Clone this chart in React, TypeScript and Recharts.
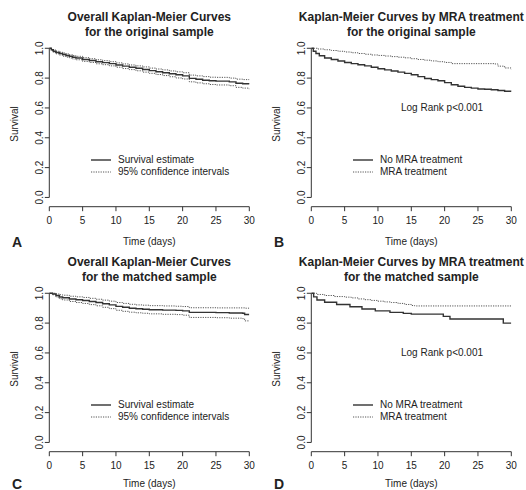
import React from 'react';
import { LineChart, Line, XAxis, YAxis, ReferenceLine } from 'recharts';

// Panel A: overall KM, original sample
const timesA = [0, 0.3, 0.6, 1, 1.5, 2, 2.5, 3, 3.5, 4, 5, 6, 7, 8, 9, 10, 11, 12, 13, 14, 15, 16, 17, 18, 19, 20, 21, 22, 23, 24, 25, 27, 28, 29, 30];
const survA = [1, 0.99, 0.98, 0.972, 0.965, 0.958, 0.952, 0.946, 0.94, 0.935, 0.925, 0.918, 0.91, 0.904, 0.897, 0.888, 0.88, 0.873, 0.866, 0.858, 0.85, 0.843, 0.836, 0.829, 0.822, 0.815, 0.798, 0.792, 0.786, 0.782, 0.78, 0.775, 0.766, 0.762, 0.758];
const upperA = [1, 0.995, 0.988, 0.98, 0.974, 0.968, 0.962, 0.956, 0.951, 0.946, 0.937, 0.93, 0.923, 0.917, 0.91, 0.902, 0.895, 0.888, 0.882, 0.875, 0.867, 0.861, 0.855, 0.848, 0.842, 0.836, 0.82, 0.815, 0.81, 0.806, 0.805, 0.8, 0.793, 0.79, 0.787];
const lowerA = [1, 0.985, 0.972, 0.963, 0.955, 0.947, 0.941, 0.935, 0.928, 0.923, 0.912, 0.905, 0.896, 0.89, 0.882, 0.873, 0.864, 0.857, 0.849, 0.84, 0.832, 0.824, 0.817, 0.809, 0.801, 0.794, 0.775, 0.768, 0.762, 0.757, 0.754, 0.749, 0.738, 0.733, 0.725];

// Panel B: by MRA treatment, original sample
const timesBNo = [0, 0.3, 0.7, 1.2, 2, 3, 4, 5, 6, 7, 8, 9, 10, 11, 12, 13, 14, 15, 16, 17, 18, 19, 20, 21, 22, 23, 24, 25, 26, 27, 28, 29, 30];
const survBNo = [1, 0.98, 0.965, 0.95, 0.935, 0.925, 0.915, 0.905, 0.897, 0.89, 0.882, 0.873, 0.863, 0.855, 0.848, 0.84, 0.832, 0.822, 0.81, 0.797, 0.79, 0.782, 0.77, 0.755, 0.745, 0.738, 0.733, 0.727, 0.725, 0.722, 0.717, 0.712, 0.708];
const timesBMra = [0, 1, 2, 3, 4, 5, 6, 7, 8, 9, 10, 11, 12, 13, 14, 15, 16, 17, 18, 19, 20, 21, 25, 27.5, 28, 29, 30];
const survBMra = [1, 0.995, 0.99, 0.985, 0.98, 0.975, 0.97, 0.965, 0.96, 0.955, 0.952, 0.948, 0.944, 0.94, 0.936, 0.93, 0.925, 0.92, 0.915, 0.91, 0.905, 0.897, 0.897, 0.895, 0.88, 0.868, 0.858];

// Panel C: overall KM, matched sample
const timesC = [0, 0.5, 1, 1.5, 2, 3, 4, 5, 6, 7, 8, 9, 10, 11, 12, 13, 14, 15, 17, 19, 20, 21, 25, 27, 29, 29.3, 30];
const survC = [1, 0.995, 0.985, 0.975, 0.97, 0.962, 0.957, 0.952, 0.945, 0.938, 0.93, 0.922, 0.912, 0.906, 0.9, 0.896, 0.893, 0.89, 0.887, 0.885, 0.882, 0.872, 0.87, 0.868, 0.866, 0.858, 0.858];
const upperC = [1, 1, 0.995, 0.99, 0.987, 0.98, 0.976, 0.972, 0.966, 0.96, 0.954, 0.947, 0.938, 0.932, 0.926, 0.922, 0.92, 0.917, 0.915, 0.913, 0.911, 0.903, 0.902, 0.902, 0.902, 0.9, 0.9];
const lowerC = [1, 0.99, 0.975, 0.963, 0.955, 0.945, 0.938, 0.932, 0.924, 0.916, 0.906, 0.897, 0.886, 0.879, 0.873, 0.869, 0.866, 0.862, 0.859, 0.857, 0.853, 0.838, 0.836, 0.833, 0.83, 0.815, 0.815];

// Panel D: by MRA treatment, matched sample
const timesDNo = [0, 0.35, 0.85, 2, 3.8, 5.8, 7.6, 9.6, 11.8, 13.8, 15, 19.8, 20.8, 28.8, 30];
const survDNo = [1, 0.976, 0.955, 0.94, 0.925, 0.91, 0.895, 0.882, 0.872, 0.865, 0.86, 0.845, 0.828, 0.8, 0.8];
const timesDMra = [0, 0.8, 2, 3.5, 5, 6, 7, 8, 9, 10, 11, 12, 13, 14, 15, 15.5, 30];
const survDMra = [1, 0.992, 0.985, 0.978, 0.974, 0.969, 0.962, 0.957, 0.952, 0.947, 0.942, 0.938, 0.932, 0.925, 0.918, 0.915, 0.915];

const xTicks = [0, 5, 10, 15, 20, 25, 30];
const yTicks = [0, 0.2, 0.4, 0.6, 0.8, 1];

const zip = (t: number[], s: number[]) => t.map((v, i) => ({ t: v, s: s[i] }));

const FONT = '"Liberation Sans", Arial, sans-serif';
const INK = '#222';

type Series = { data: { t: number; s: number }[]; dotted: boolean };

function YTick(props: any) {
  const { x, y, payload } = props;
  return (
    <text x={x} y={y} transform={`rotate(-90 ${x} ${y})`} textAnchor="middle" fontSize={10} fill={INK} fontFamily={FONT}>
      {payload.value.toFixed(1)}
    </text>
  );
}

function Panel({ left, top, title, letter, series, legend, logRank, footY }: {
  left: number; top: number; title: string[]; letter: string; series: Series[]; legend: string[]; logRank: boolean; footY: number;
}) {
  const txt: React.CSSProperties = { position: 'absolute', fontFamily: FONT, color: INK, whiteSpace: 'nowrap', lineHeight: 1 };
  return (
    <div style={{ position: 'absolute', left, top, width: 263, height: 245 }}>
      <LineChart width={263} height={245} margin={{ top: 42.3, right: 13.7, bottom: 8.3, left: 0 }}>
        <XAxis
          type="number"
          dataKey="t"
          domain={[0, 30]}
          ticks={xTicks}
          allowDataOverflow
          height={30}
          tickSize={4.5}
          tickMargin={6}
          stroke="#333"
          tick={{ fontSize: 10, fill: INK, fontFamily: FONT }}
        />
        <YAxis
          type="number"
          domain={[-0.062, 1.04]}
          ticks={yTicks}
          allowDataOverflow
          width={49.3}
          axisLine={false}
          tickSize={4.5}
          tickMargin={1.5}
          stroke="#333"
          tick={<YTick />}
        />
        <ReferenceLine segment={[{ x: 0, y: 0 }, { x: 0, y: 1 }]} stroke="#333" strokeWidth={1} />
        {series.map((s, i) => (
          <Line
            key={i}
            data={s.data}
            dataKey="s"
            type="stepAfter"
            dot={false}
            activeDot={false}
            stroke={s.dotted ? '#555' : '#333'}
            strokeWidth={s.dotted ? 1 : 1.4}
            strokeDasharray={s.dotted ? '1.2 1.2' : undefined}
            isAnimationActive={false}
          />
        ))}
      </LineChart>
      {title.map((line, i) => (
        <div key={i} style={{ ...txt, left: 149.3, top: 17 + i * 15, transform: 'translate(-50%, -50%)', fontSize: 12, fontWeight: 'bold' }}>
          {line}
        </div>
      ))}
      <div style={{ ...txt, left: 17, top: footY, transform: 'translate(-50%, -50%)', fontSize: 14, fontWeight: 'bold' }}>{letter}</div>
      <div style={{ ...txt, left: 149.3, top: footY, transform: 'translate(-50%, -50%)', fontSize: 10, lineHeight: '12px' }}>Time (days)</div>
      <div style={{ ...txt, left: 15, top: 123.5, transform: 'translate(-50%, -50%) rotate(-90deg)', fontSize: 10 }}>Survival</div>
      {logRank && (
        <div style={{ ...txt, left: 139, top: 108, transform: 'translateY(-50%)', fontSize: 10 }}>Log Rank p&lt;0.001</div>
      )}
      {legend.map((label, i) => (
        <div key={label} style={{ ...txt, left: 91, top: 160 + i * 12, transform: 'translateY(-50%)', fontSize: 10, display: 'flex', alignItems: 'center' }}>
          <svg width={20} height={6} style={{ marginRight: 7 }}>
            <line x1={0} y1={3} x2={20} y2={3} stroke={i === 0 ? '#333' : '#555'} strokeWidth={i === 0 ? 1.4 : 1} strokeDasharray={i === 0 ? undefined : '1.2 1.2'} />
          </svg>
          {label}
        </div>
      ))}
    </div>
  );
}

export default function App() {
  const ciLegend = ['Survival estimate', '95% confidence intervals'];
  const mraLegend = ['No MRA treatment', 'MRA treatment'];
  return (
    <div style={{ position: 'absolute', left: 0, top: 0, width: 526, height: 490, background: '#fff', overflow: 'hidden' }}>
      <Panel
        left={0}
        top={0}
        title={['Overall Kaplan-Meier Curves', 'for the original sample']}
        letter="A"
        series={[
          { data: zip(timesA, upperA), dotted: true },
          { data: zip(timesA, lowerA), dotted: true },
          { data: zip(timesA, survA), dotted: false },
        ]}
        legend={ciLegend}
        logRank={false}
        footY={241.5}
      />
      <Panel
        left={262}
        top={0}
        title={['Kaplan-Meier Curves by MRA treatment', 'for the original sample']}
        letter="B"
        series={[
          { data: zip(timesBMra, survBMra), dotted: true },
          { data: zip(timesBNo, survBNo), dotted: false },
        ]}
        legend={mraLegend}
        logRank
        footY={241.5}
      />
      <Panel
        left={0}
        top={245}
        title={['Overall Kaplan-Meier Curves', 'for the matched sample']}
        letter="C"
        series={[
          { data: zip(timesC, upperC), dotted: true },
          { data: zip(timesC, lowerC), dotted: true },
          { data: zip(timesC, survC), dotted: false },
        ]}
        legend={ciLegend}
        logRank={false}
        footY={238.5}
      />
      <Panel
        left={262}
        top={245}
        title={['Kaplan-Meier Curves by MRA treatment', 'for the matched sample']}
        letter="D"
        series={[
          { data: zip(timesDMra, survDMra), dotted: true },
          { data: zip(timesDNo, survDNo), dotted: false },
        ]}
        legend={mraLegend}
        logRank
        footY={238.5}
      />
    </div>
  );
}
